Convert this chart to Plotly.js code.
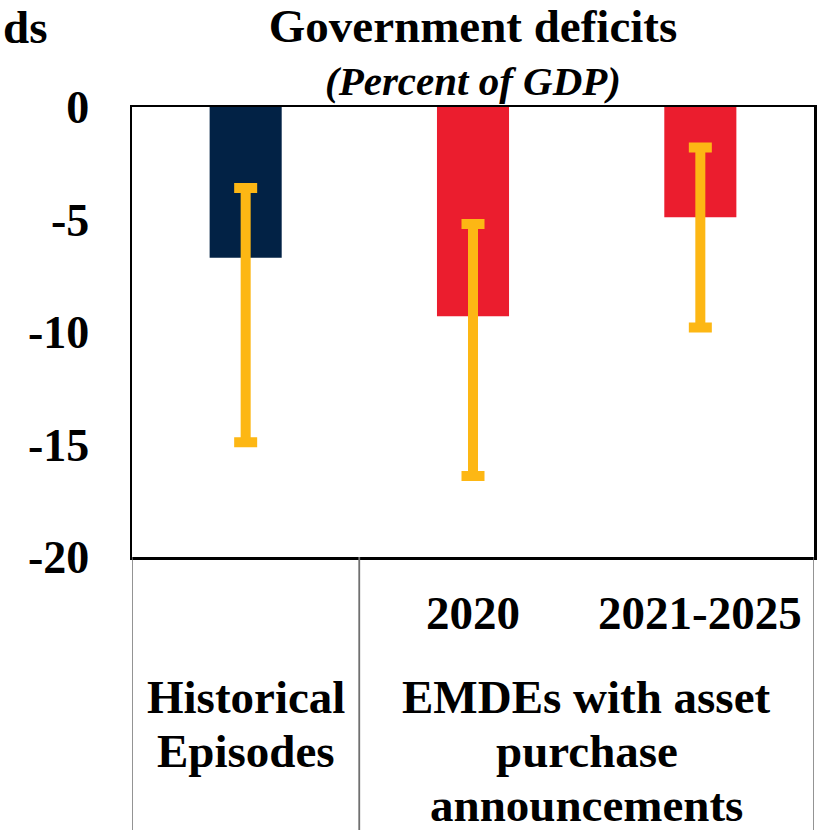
<!DOCTYPE html>
<html>
<head>
<meta charset="utf-8">
<script src="https://cdn.plot.ly/plotly-3.0.1.min.js"></script>
<style>
  html, body { margin: 0; padding: 0; background: #fff; }
  #chart { width: 820px; height: 830px; }
</style>
</head>
<body>
<div id="chart"></div>
<script>
// ---- Data ----
const categories = ["Historical Episodes", "2020", "2021-2025"];
const categoryLabels = ["", "2020", "2021-2025"];
const groupLabels = ["Historical<br>Episodes", "EMDEs with asset<br>purchase<br>announcements"];
const groupMembers = [[0], [1, 2]];
const deficitValues = [-6.7, -9.3, -4.9];
const rangeHigh = [-3.6, -5.2, -1.8];
const rangeLow = [-14.9, -16.4, -9.8];
const yTickValues = [0, -5, -10, -15, -20];
const yTickLabels = ["0", "-5", "-10", "-15", "-20"];
const chartTitle = "Government deficits";
const chartSubtitle = "(Percent of GDP)";
const cutText = "ds";

// ---- Styles ----
const FONT = '"Liberation Serif", "Times New Roman", serif';
const barColors = ["#022245", "#EB1D2E", "#EB1D2E"];
const errColor = "#FDB714";

const errPlus = deficitValues.map((v, i) => rangeHigh[i] - v);
const errMinus = deficitValues.map((v, i) => v - rangeLow[i]);

const trace = {
  type: "bar",
  x: categories,
  y: deficitValues,
  width: 0.317,
  marker: { color: barColors, line: { width: 0 } },
  error_y: {
    type: "data",
    symmetric: false,
    array: errPlus,
    arrayminus: errMinus,
    color: errColor,
    thickness: 10,
    width: 11.5
  },
  hoverinfo: "none"
};

const annotations = [];
const shapes = [];

// subtitle
annotations.push({
  text: "<b><i>" + chartSubtitle + "</i></b>",
  xref: "paper", yref: "paper", x: 0.5, y: 1.058,
  xanchor: "center", yanchor: "middle", showarrow: false,
  font: { family: FONT, size: 41, color: "#000" }
});
// fragment of the neighbouring panel's title
annotations.push({
  text: "<b>" + cutText + "</b>",
  xref: "paper", yref: "paper", x: -0.1925, y: 1.178,
  xanchor: "left", yanchor: "middle", showarrow: false,
  font: { family: FONT, size: 47, color: "#000" }
});

// inner category labels (positioned by category index on the axis)
categoryLabels.forEach((lab, i) => {
  if (!lab) return;
  annotations.push({
    text: "<b>" + lab + "</b>",
    xref: "x", yref: "paper", x: i, y: -0.125,
    xanchor: "center", yanchor: "middle", showarrow: false,
    font: { family: FONT, size: 47, color: "#000" }
  });
});

// group labels, line by line
const lineStep = 54 / 450;
groupLabels.forEach((lab, g) => {
  const mem = groupMembers[g];
  const xc = (mem[0] + mem[mem.length - 1]) / 2;
  lab.split("<br>").forEach((ln, k) => {
    annotations.push({
      text: "<b>" + ln + "</b>",
      xref: "x", yref: "paper", x: xc, y: -0.311 - k * lineStep,
      xanchor: "center", yanchor: "middle", showarrow: false,
      font: { family: FONT, size: 47, color: "#000" }
    });
  });
  // divider lines at group edges
  [mem[0] - 0.5, mem[mem.length - 1] + 0.5].forEach(xe => {
    shapes.push({
      type: "line", xref: "x", yref: "paper",
      x0: xe, x1: xe, y0: 0, y1: -0.63,
      line: { color: "#707070", width: 1.5 }
    });
  });
});

const layout = {
  width: 820,
  height: 830,
  margin: { l: 132, r: 6, t: 107, b: 273, pad: 0 },
  paper_bgcolor: "#fff",
  plot_bgcolor: "#fff",
  showlegend: false,
  title: {
    text: "<b>" + chartTitle + "</b>",
    font: { family: FONT, size: 47, color: "#000" },
    xref: "paper", x: 0.5, xanchor: "center",
    yref: "container", y: 0.969, yanchor: "middle"
  },
  xaxis: {
    type: "category",
    range: [-0.5, 2.5],
    showticklabels: false,
    ticks: "",
    showgrid: false,
    zeroline: false,
    showline: true,
    mirror: true,
    linecolor: "#000",
    linewidth: 2.5
  },
  yaxis: {
    range: [-20, 0],
    tickvals: yTickValues,
    ticktext: yTickLabels,
    ticks: "",
    ticklabelstandoff: 31,
    tickfont: { family: FONT, size: 46, color: "#000", weight: "bold" },
    showgrid: false,
    zeroline: false,
    showline: true,
    mirror: true,
    linecolor: "#000",
    linewidth: 2.5
  },
  annotations: annotations,
  shapes: shapes
};

Plotly.newPlot("chart", [trace], layout, { displayModeBar: false, staticPlot: true });
</script>
</body>
</html>
